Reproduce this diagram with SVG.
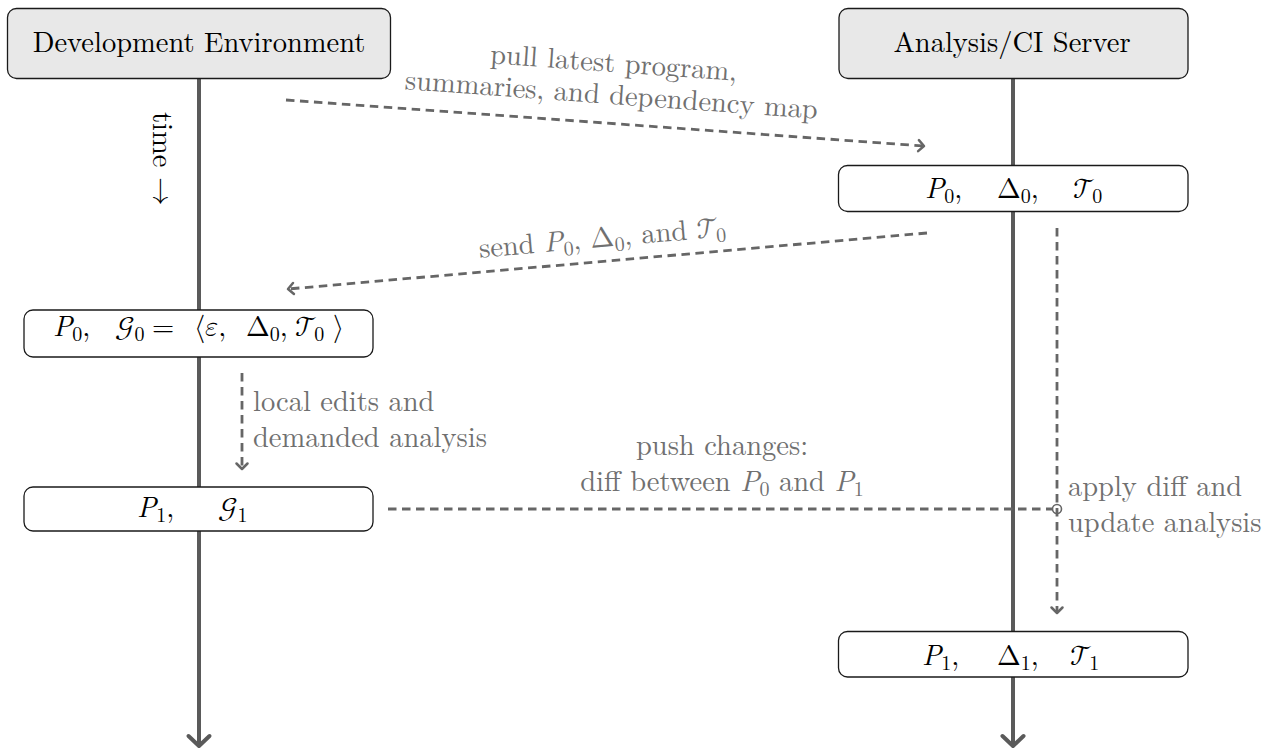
<svg xmlns="http://www.w3.org/2000/svg" width="1278" height="749" viewBox="0 0 1278 749">
  <style>
    text { font-size: 28.5px; }
    .head { fill: #e8e8e8; stroke: #1a1a1a; stroke-width: 1.3; }
    .state { fill: #ffffff; stroke: #1a1a1a; stroke-width: 1.3; }
    .life { fill: none; stroke: #5a5a5a; stroke-width: 4; }
    .msg { fill: none; stroke: #666666; stroke-width: 2.8; stroke-dasharray: 8.5 5.5; }
    .lbl { fill: #707070; }
    .it { font-style: italic; }
    .sub { font-size: 20px; }
  </style>
  <defs>
    <marker id="tip" markerUnits="userSpaceOnUse" viewBox="-12 -12 24 24" markerWidth="24" markerHeight="24" refX="0" refY="0" orient="auto" overflow="visible">
      <path d="M-5.5,-5.5 L0,0 L-5.5,5.5" fill="none" stroke="#666666" stroke-width="2.5" stroke-dasharray="none" stroke-linecap="round" stroke-linejoin="round"/>
    </marker>
    <marker id="bigtip" markerUnits="userSpaceOnUse" viewBox="-16 -16 32 32" markerWidth="32" markerHeight="32" refX="0" refY="0" orient="auto" overflow="visible">
      <path d="M-10,-10.5 L0,0 L-10,10.5" fill="none" stroke="#5a5a5a" stroke-width="4" stroke-linecap="round" stroke-linejoin="round"/>
    </marker>
  </defs>

  <!-- lifelines -->
  <g id="lifelines">
    <path class="life" d="M199,78 L199,746" marker-end="url(#bigtip)"/>
    <path class="life" d="M1013,78 L1013,746" marker-end="url(#bigtip)"/>
    <text font-family="Latin Modern Roman" fill="#000000" transform="translate(153,112) rotate(90)" x="0" y="0">time <tspan font-family="Latin Modern Math">→</tspan></text>
  </g>

  <!-- messages between the two sides -->
  <g id="connectors">
    <path class="msg" d="M286,100 L924,146" marker-end="url(#tip)"/>
    <g class="lbl" transform="translate(612,88) rotate(4.1)">
      <text font-family="Latin Modern Roman" x="0" y="-16" text-anchor="middle">pull latest program,</text>
      <text font-family="Latin Modern Roman" x="0" y="16" text-anchor="middle">summaries, and dependency map</text>
    </g>

    <path class="msg" d="M927,233 L288,289" marker-end="url(#tip)"/>
    <g class="lbl" transform="translate(603,247) rotate(-5)">
      <text font-family="Latin Modern Roman" x="0" y="0" text-anchor="middle">send <tspan class="it">P</tspan><tspan class="sub" dy="5">0</tspan><tspan dy="-5">, </tspan><tspan font-family="Latin Modern Math">Δ</tspan><tspan class="sub" dy="5">0</tspan><tspan dy="-5">, and </tspan><tspan font-family="Latin Modern Math">𝒯</tspan><tspan class="sub" dx="-3" dy="5">0</tspan></text>
    </g>

    <path class="msg" d="M242,373 L242,469" marker-end="url(#tip)"/>
    <g class="lbl">
      <text font-family="Latin Modern Roman" x="253" y="411">local edits and</text>
      <text font-family="Latin Modern Roman" x="253" y="447">demanded analysis</text>
    </g>

    <path class="msg" d="M388,509 L1052,509"/>
    <circle cx="1057" cy="509" r="4.5" fill="#ffffff" stroke="#666666" stroke-width="1.6"/>
    <g class="lbl">
      <text font-family="Latin Modern Roman" x="722" y="455" text-anchor="middle">push changes:</text>
      <text font-family="Latin Modern Roman" x="722" y="491" text-anchor="middle">diff between <tspan class="it">P</tspan><tspan class="sub" dy="5">0</tspan><tspan dy="-5"> and </tspan><tspan class="it">P</tspan><tspan class="sub" dy="5">1</tspan></text>
    </g>

    <path class="msg" d="M1057,228 L1057,613" marker-end="url(#tip)"/>
    <g class="lbl">
      <text font-family="Latin Modern Roman" x="1068" y="496">apply diff and</text>
      <text font-family="Latin Modern Roman" x="1068" y="532">update analysis</text>
    </g>
  </g>

  <!-- participants -->
  <g id="dev-env">
    <rect class="head" x="7.5" y="8.5" width="383" height="70" rx="9"/>
    <text font-family="Latin Modern Roman" x="199" y="52" text-anchor="middle">Development Environment</text>
  </g>
  <g id="ci-server">
    <rect class="head" x="839" y="8.5" width="349" height="70" rx="9"/>
    <text font-family="Latin Modern Roman" x="1012" y="52" text-anchor="middle">Analysis/CI Server</text>
  </g>

  <!-- states on the server -->
  <g id="server-state-0">
    <rect class="state" x="838.5" y="165.5" width="349.5" height="46" rx="9"/>
    <text font-family="Latin Modern Roman" y="198"><tspan class="it" x="925">P</tspan><tspan class="sub" dy="5">0</tspan><tspan dy="-5">,</tspan><tspan font-family="Latin Modern Math" x="997">Δ</tspan><tspan class="sub" dy="5">0</tspan><tspan dy="-5">,</tspan><tspan font-family="Latin Modern Math" x="1073">𝒯</tspan><tspan class="sub" dx="-3" dy="5">0</tspan></text>
  </g>
  <g id="server-state-1">
    <rect class="state" x="838.5" y="631.5" width="349.5" height="45.5" rx="9"/>
    <text font-family="Latin Modern Roman" y="665"><tspan class="it" x="922">P</tspan><tspan class="sub" dy="5">1</tspan><tspan dy="-5">,</tspan><tspan font-family="Latin Modern Math" x="997">Δ</tspan><tspan class="sub" dy="5">1</tspan><tspan dy="-5">,</tspan><tspan font-family="Latin Modern Math" x="1070">𝒯</tspan><tspan class="sub" dx="-3" dy="5">1</tspan></text>
  </g>

  <!-- states in the development environment -->
  <g id="dev-state-0">
    <rect class="state" x="24" y="310" width="349" height="47" rx="9"/>
    <text font-family="Latin Modern Roman" y="336"><tspan class="it" x="53">P</tspan><tspan class="sub" dy="5">0</tspan><tspan dy="-5">,</tspan><tspan font-family="Latin Modern Math" x="115">𝒢</tspan><tspan class="sub" dy="5">0</tspan><tspan font-family="Latin Modern Math" x="152" dy="-5">=</tspan><tspan font-family="Latin Modern Math" x="194">⟨𝜀,</tspan><tspan font-family="Latin Modern Math" x="246">Δ</tspan><tspan class="sub" dy="5">0</tspan><tspan dy="-5">,</tspan><tspan font-family="Latin Modern Math" x="295">𝒯</tspan><tspan class="sub" dx="-3" dy="5">0</tspan><tspan font-family="Latin Modern Math" x="333" dy="-5">⟩</tspan></text>
  </g>
  <g id="dev-state-1">
    <rect class="state" x="24" y="487" width="349" height="44" rx="9"/>
    <text font-family="Latin Modern Roman" y="517"><tspan class="it" x="137">P</tspan><tspan class="sub" dy="5">1</tspan><tspan dy="-5">,</tspan><tspan font-family="Latin Modern Math" x="218">𝒢</tspan><tspan class="sub" dy="5">1</tspan></text>
  </g>
</svg>
